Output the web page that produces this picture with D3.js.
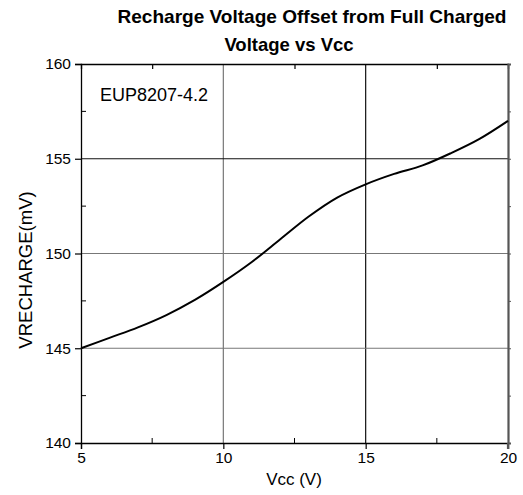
<!DOCTYPE html>
<html>
<head>
<meta charset="utf-8">
<script src="https://cdn.jsdelivr.net/npm/d3@7"></script>
<style>
body { margin: 0; background: #fff; }
text { font-family: "Liberation Sans", Arial, sans-serif; fill: #000; }
</style>
</head>
<body>
<script>
// donnees
var vcc = [5, 6, 7, 8, 9, 10, 11, 12, 13, 14, 15, 16, 17, 18, 19, 20];
var vrecharge = [145.0, 145.55, 146.1, 146.75, 147.55, 148.5, 149.55, 150.75, 151.95, 152.95, 153.65, 154.2, 154.65, 155.3, 156.05, 157.0];
var xTicks = [5, 10, 15, 20];
var yTicks = [140, 145, 150, 155, 160];
var xMinor = [7.5, 12.5, 17.5];
var yMinor = [142.5, 147.5, 152.5, 157.5];
var titre1 = "Recharge Voltage Offset from Full Charged";
var titre2 = "Voltage vs Vcc";
var etiquette = "EUP8207-4.2";

var W = 523, H = 495;
var L = 81, R = 508, T = 64, B = 443;

var svg = d3.select("body").append("svg").attr("width", W).attr("height", H);

var x = d3.scaleLinear().domain([5, 20]).range([L, R]);
var y = d3.scaleLinear().domain([140, 160]).range([B, T]);

// grille (certaines lignes plus claires comme sur l'original)
function couleurGrille(v) { return (v == 15 || v == 155) ? "#111" : "#777"; }

svg.append("g").selectAll("line").data(xTicks.slice(1, -1)).enter().append("line")
    .attr("x1", d => x(d)).attr("x2", d => x(d)).attr("y1", T).attr("y2", B)
    .attr("stroke", couleurGrille).attr("stroke-width", 1.2);
svg.append("g").selectAll("line").data(yTicks.slice(1, -1)).enter().append("line")
    .attr("y1", d => y(d)).attr("y2", d => y(d)).attr("x1", L).attr("x2", R)
    .attr("stroke", couleurGrille).attr("stroke-width", 1.2);

// axes
var axeBas = svg.append("g").attr("transform", "translate(0," + B + ")")
    .call(d3.axisBottom(x).tickValues(xTicks).tickSize(6).tickPadding(3).tickFormat(d3.format("d")));
var axeGauche = svg.append("g").attr("transform", "translate(" + L + ",0)")
    .call(d3.axisLeft(y).tickValues(yTicks).tickSize(6).tickPadding(4).tickFormat(d3.format("d")));
var axeHaut = svg.append("g").attr("transform", "translate(0," + T + ")")
    .call(d3.axisTop(x).tickValues(xMinor).tickSize(-5).tickFormat(""));
var axeDroite = svg.append("g").attr("transform", "translate(" + R + ",0)")
    .call(d3.axisRight(y).tickValues(yTicks.concat(yMinor)).tickSize(3).tickFormat(""));

// petits traits interieurs
svg.append("g").selectAll("line").data(xMinor).enter().append("line")
    .attr("x1", d => x(d)).attr("x2", d => x(d)).attr("y1", B).attr("y2", B - 5)
    .attr("stroke", "#000");
svg.append("g").selectAll("line").data(yMinor).enter().append("line")
    .attr("y1", d => y(d)).attr("y2", d => y(d)).attr("x1", L).attr("x2", L + 5)
    .attr("stroke", "#000");

[axeBas, axeGauche, axeHaut].forEach(function(a) {
    a.select(".domain").attr("stroke", "#000").attr("stroke-width", 1.3);
    a.selectAll(".tick line").attr("stroke", "#000").attr("stroke-width", 1.2);
    a.selectAll("text").attr("font-size", "15.5px").attr("font-family", "Liberation Sans, Arial, sans-serif").attr("fill", "#000");
});
axeDroite.select(".domain").attr("stroke", "#555").attr("stroke-width", 2.2);
axeDroite.selectAll(".tick line").attr("stroke", "#555");
// le trait de l'axe droit descend sous le cadre
svg.append("line").attr("x1", R).attr("x2", R).attr("y1", B).attr("y2", B + 6)
    .attr("stroke", "#555").attr("stroke-width", 2.2);

// courbe
var ligne = d3.line().x((d, i) => x(vcc[i])).y(d => y(d)).curve(d3.curveCatmullRom);
svg.append("path").datum(vrecharge).attr("d", ligne)
    .attr("fill", "none").attr("stroke", "#000").attr("stroke-width", 2);

// textes
svg.append("text").attr("x", 312).attr("y", 23).attr("text-anchor", "middle")
    .attr("font-size", "18.5px").attr("font-weight", "bold")
    .attr("textLength", 389).attr("lengthAdjust", "spacingAndGlyphs").text(titre1);
svg.append("text").attr("x", 289).attr("y", 51).attr("text-anchor", "middle")
    .attr("font-size", "18.5px").attr("font-weight", "bold").text(titre2);
svg.append("text").attr("x", 100).attr("y", 101).attr("font-size", "18px").text(etiquette);
svg.append("text").attr("x", 294).attr("y", 485).attr("text-anchor", "middle")
    .attr("font-size", "17px").text("Vcc (V)");
svg.append("text").attr("transform", "translate(32,270) rotate(-90)").attr("text-anchor", "middle")
    .attr("font-size", "18.5px").text("VRECHARGE(mV)");
</script>
</body>
</html>
